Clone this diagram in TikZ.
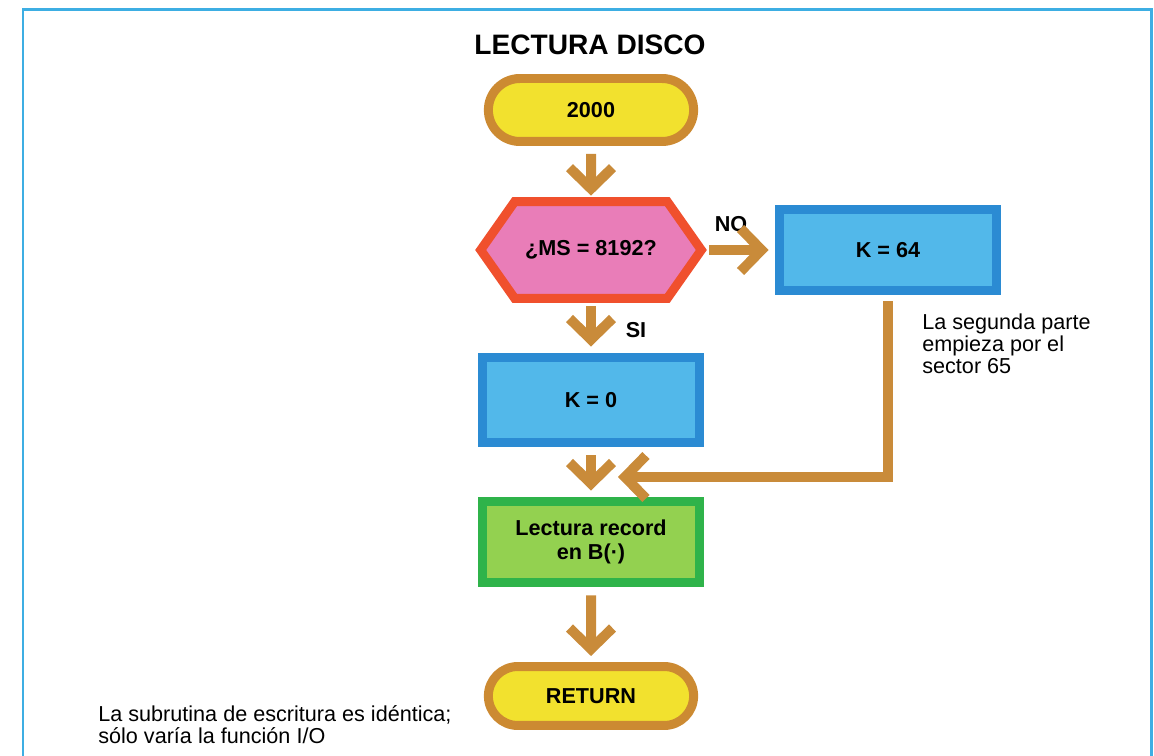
\documentclass[tikz,border=0pt]{standalone}
\usepackage{fontspec}
\setmainfont{Liberation Sans}
\usetikzlibrary{arrows.meta,shapes.misc,calc,backgrounds}

\definecolor{frameblue}{HTML}{3DAEE3}
\definecolor{termfill}{HTML}{F2E12E}
\definecolor{termline}{HTML}{CC8A32}
\definecolor{flowtan}{HTML}{C98B3A}
\definecolor{hexfill}{HTML}{E97DB8}
\definecolor{hexline}{HTML}{F0502D}
\definecolor{boxfill}{HTML}{52B8EA}
\definecolor{boxline}{HTML}{2B8BD3}
\definecolor{greenfill}{HTML}{93D150}
\definecolor{greenline}{HTML}{2FB34A}

\begin{document}
\begin{tikzpicture}[x=0.02cm, y=-0.02cm,
    boxtext/.style={font=\fontsize{12.3}{14}\selectfont\bfseries, align=center},
    terminal/.style={boxtext, rounded rectangle, draw=termline, fill=termfill, line width=0.18cm, minimum width=4.34cm, minimum height=1.26cm},
    process/.style={boxtext, rectangle, draw=boxline, fill=boxfill, line width=0.18cm, minimum width=4.34cm},
    flow/.style={flowtan, line width=0.2cm, -{Straight Barb[length=0.42cm, width=0.86cm]}, shorten <=0.16cm, shorten >=0.12cm},
    note/.style={font=\fontsize{12.3}{12.6}\selectfont, align=left, inner sep=0pt}]
    \useasboundingbox (0,0) rectangle (1154,756);

    % Frame
    \draw[frameblue, line width=0.06cm] (23,756) -- (23,10) -- (1151,10) -- (1151,756);

    % Nodes
    \node[font=\fontsize{16}{18}\selectfont\bfseries] (title) at (590,45) {LECTURA DISCO};

    \node[terminal] (start) at (591,110) {2000};

    \node[boxtext, minimum width=4.4cm, minimum height=1.92cm] (msq) at (591,250) {¿MS = 8192?};

    \node[process, minimum width=4.36cm, minimum height=1.62cm] (kset) at (888,250) {K = 64};

    \node[process, minimum height=1.72cm] (kzero) at (591,400) {K = 0};

    \node[process, draw=greenline, fill=greenfill, minimum height=1.64cm] (read) at (591,542) {Lectura record\\en B(·)};

    \node[terminal, minimum height=1.18cm] (ret) at (591,696) {RETURN};

    % Hexagon behind the question
    \begin{scope}[on background layer]
        \draw[hexline, fill=hexfill, line width=0.18cm] (msq.west) -- ($(msq.north west)+(34,0)$) -- ($(msq.north east)+(-34,0)$) -- (msq.east) -- ($(msq.south east)+(-34,0)$) -- ($(msq.south west)+(34,0)$) -- cycle;
    \end{scope}

    % Labels
    \node[boxtext] (no) at (731,224) {NO};
    \node[boxtext] (si) at (636,330) {SI};

    % Notes
    \node[note, anchor=north west] (sector) at (922,313) {La segunda parte\\empieza por el\\sector 65};
    \node[note, anchor=north west] (iofunc) at (98,705) {La subrutina de escritura es idéntica;\\sólo varía la función I/O};

    % Arrows
    \coordinate (join) at (618,477);
    \draw[flow] (start) -- (msq);
    \draw[flow] (msq) -- (kset);
    \draw[flow] (msq) -- (kzero);
    \draw[flow] (kzero) -- (read);
    \draw[flow] (read) -- (ret);
    \draw[flow, shorten <=0.13cm, shorten >=0pt] (kset.south) |- (join);
\end{tikzpicture}
\end{document}
